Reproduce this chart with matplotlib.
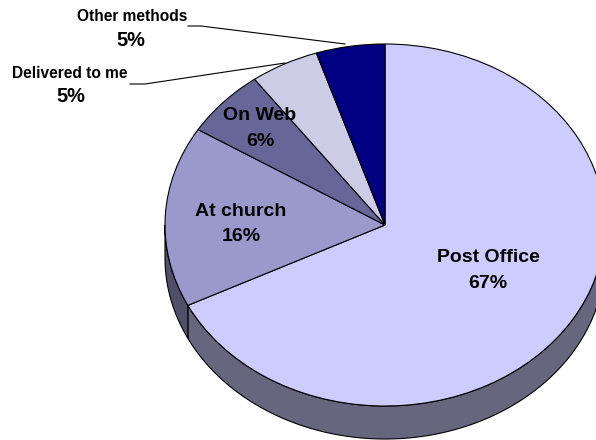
import numpy as np
import matplotlib
matplotlib.use("Agg")
import matplotlib.pyplot as plt

labels = ["Post Office", "At church", "On Web", "Delivered to me", "Other methods"]
values = [67, 16, 6, 5, 5]
colors = ["#CCCCFF", "#9999CC", "#666699", "#CCCCE6", "#000080"]
side_colors = ["#66667F", "#50506B", "#333350", "#66667F", "#000040"]

plt.rcParams['font.family'] = ['Liberation Sans', 'DejaVu Sans']
plt.rcParams['font.weight'] = 'bold'

W, H = 596, 440
cx, cy = 385, 225
rx, ry = 220, 181
depth = 33
k = ry / rx  # the pie is squashed, so y data units are scaled


def py(y):
    # pixel row to data y
    return (H - y) / k


fig = plt.figure(figsize=(W / 100, H / 100), dpi=100)
ax = fig.add_axes([0, 0, 1, 1])

# side of the pie, only the front half shows
angles = np.cumsum([0] + values) / sum(values) * 360
for i in range(len(values)):
    a = max(angles[i], 90)
    b = min(angles[i + 1], 270)
    if a >= b:
        continue
    t = np.radians(np.linspace(a, b, 200))
    x = cx + rx * np.sin(t)
    y = py(cy) + rx * np.cos(t)
    xs = np.concatenate([x, x[::-1]])
    ys = np.concatenate([y, y[::-1] - depth / k])
    ax.fill(xs, ys, facecolor=side_colors[i], edgecolor="black", linewidth=0.8, zorder=1)

wedges, _ = ax.pie(values, colors=colors, startangle=90, counterclock=False,
                   center=(cx, py(cy)), radius=rx,
                   wedgeprops={"edgecolor": "black", "linewidth": 0.8, "zorder": 2})

ax.set_aspect("auto")
ax.set_xlim(0, W)
ax.set_ylim(0, H / k)
ax.axis("off")

# labels inside the pie: x, name row, percent row
inside = [(488, 257, 283), (241, 211, 236), (260, 115, 141)]
for i, (x, y_name, y_pct) in enumerate(inside):
    ax.text(x, py(y_name), labels[i], ha="center", va="center", fontsize=14, zorder=5)
    ax.text(x, py(y_pct), f"{values[i]}%", ha="center", va="center", fontsize=14, zorder=5)

# labels outside with leader lines
ax.text(69.5, py(74), labels[3], ha="center", va="center", fontsize=11.2)
ax.text(71, py(97), f"{values[3]}%", ha="center", va="center", fontsize=14.4)
ax.text(132, py(17), labels[4], ha="center", va="center", fontsize=11.2)
ax.text(131, py(40), f"{values[4]}%", ha="center", va="center", fontsize=14.4)

ax.plot([130, 145, 285], [py(84), py(84), py(63)], color="black", lw=0.8, zorder=3)
ax.plot([188, 201, 345], [py(26), py(26), py(44)], color="black", lw=0.8, zorder=3)

fig.savefig("out.png", dpi=100, facecolor="white")
